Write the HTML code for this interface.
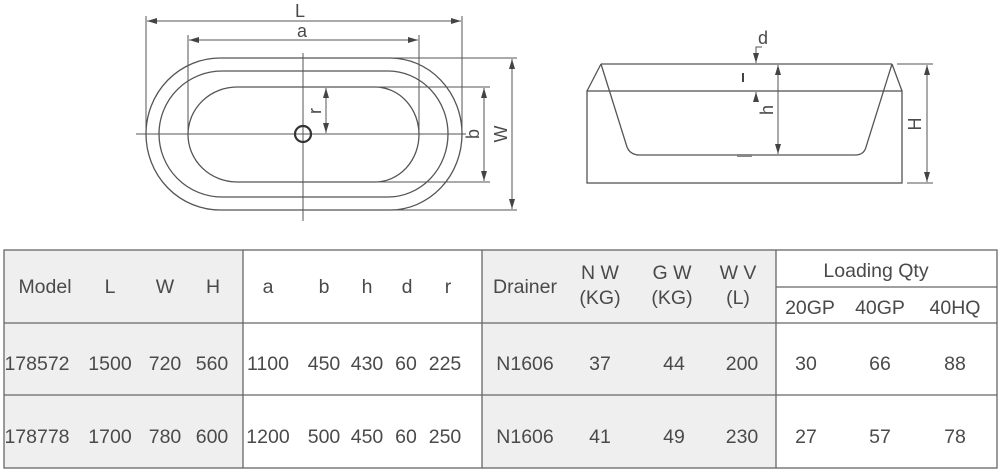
<!DOCTYPE html>
<html><head><meta charset="utf-8"><style>
html,body{margin:0;padding:0;background:#fff;}
svg{display:block;}
text{font-family:"Liberation Sans",sans-serif;fill:#4a4a4a;}
</style></head><body>
<svg width="1000" height="471" viewBox="0 0 1000 471" xmlns="http://www.w3.org/2000/svg">
<defs>
<marker id="ar" viewBox="0 0 10 6" refX="10" refY="3" markerWidth="10" markerHeight="6" orient="auto-start-reverse" markerUnits="userSpaceOnUse"><path d="M0,0 L10,3 L0,6 z" fill="#444"/></marker>
</defs>
<g stroke="#555" stroke-width="1.3" fill="none">
<path d="M220,58 L390,58 A72,76 0 0 1 390,210 L220,210 A74,76 0 0 1 220,58 Z"/>
<path d="M222,71 L388,71 A60,63 0 0 1 388,197 L222,197 A63,63 0 0 1 222,71 Z"/>
<path d="M237,87 L375,87 A44,47.5 0 0 1 375,182 L237,182 A49,47.5 0 0 1 237,87 Z"/>
</g>
<g stroke="#555" stroke-width="1" fill="none">
<line x1="136" y1="134" x2="466" y2="134"/>
<line x1="303" y1="53" x2="303" y2="221"/>
<line x1="146" y1="16" x2="146" y2="134"/>
<line x1="462" y1="16" x2="462" y2="134"/>
<line x1="147" y1="21" x2="461" y2="21" marker-start="url(#ar)" marker-end="url(#ar)"/>
<line x1="188" y1="35" x2="188" y2="134"/>
<line x1="419" y1="35" x2="419" y2="134"/>
<line x1="189" y1="40" x2="418" y2="40" marker-start="url(#ar)" marker-end="url(#ar)"/>
<line x1="326" y1="88" x2="326" y2="133" marker-start="url(#ar)" marker-end="url(#ar)"/>
<line x1="375" y1="87" x2="490" y2="87"/>
<line x1="375" y1="182" x2="490" y2="182"/>
<line x1="484" y1="88" x2="484" y2="181" marker-start="url(#ar)" marker-end="url(#ar)"/>
<line x1="390" y1="58" x2="517" y2="58"/>
<line x1="390" y1="210" x2="517" y2="210"/>
<line x1="512" y1="59" x2="512" y2="209" marker-start="url(#ar)" marker-end="url(#ar)"/>
</g>
<circle cx="303" cy="134" r="8" fill="none" stroke="#333" stroke-width="2.2"/>
<text x="300" y="17" font-size="18" text-anchor="middle">L</text>
<text x="302" y="37" font-size="18" text-anchor="middle">a</text>
<text transform="translate(321,111) rotate(-90)" font-size="18" text-anchor="middle">r</text>
<text transform="translate(479,134) rotate(-90)" font-size="18" text-anchor="middle">b</text>
<text transform="translate(507,134) rotate(-90)" font-size="18" text-anchor="middle">W</text>

<g stroke="#555" stroke-width="1.3" fill="none">
<rect x="587" y="91" width="315" height="92"/>
<line x1="601" y1="64" x2="892" y2="64"/>
<line x1="587" y1="91" x2="601" y2="64"/>
<line x1="902" y1="91" x2="892" y2="64"/>
<path d="M601,64 L627,147 Q630,155 640,155 L855,155 Q864,155 866,147 L892,64"/>
</g>
<rect x="737" y="154" width="15" height="3" fill="#888"/>
<g stroke="#555" stroke-width="1" fill="none">
<polyline points="762,47 756,47 756,63" marker-end="url(#ar)"/>
<line x1="756" y1="102" x2="756" y2="92" marker-end="url(#ar)"/>
<line x1="778" y1="65" x2="778" y2="154" marker-start="url(#ar)" marker-end="url(#ar)"/>
<line x1="897" y1="64" x2="933" y2="64"/>
<line x1="907" y1="183" x2="933" y2="183"/>
<line x1="927" y1="65" x2="927" y2="182" marker-start="url(#ar)" marker-end="url(#ar)"/>
</g>
<rect x="742" y="73" width="2" height="9" fill="#444"/>
<text x="763" y="44" font-size="18" text-anchor="middle">d</text>
<text transform="translate(773,110) rotate(-90)" font-size="18" text-anchor="middle">h</text>
<text transform="translate(921,124) rotate(-90)" font-size="18" text-anchor="middle">H</text>

<rect x="4" y="250" width="239" height="218" fill="#efefef"/>
<rect x="482" y="250" width="294" height="218" fill="#efefef"/>
<g stroke="#666" stroke-width="1.3" fill="none">
<rect x="4" y="250" width="993" height="218"/>
<line x1="4" y1="323" x2="997" y2="323"/>
<line x1="4" y1="395" x2="997" y2="395"/>
<line x1="243" y1="250" x2="243" y2="468"/>
<line x1="482" y1="250" x2="482" y2="468"/>
<line x1="776" y1="250" x2="776" y2="468"/>
<line x1="776" y1="287" x2="997" y2="287"/>
</g>
<g font-size="19.5" text-anchor="middle">
<text x="45" y="293">Model</text><text x="110" y="293">L</text><text x="165" y="293">W</text><text x="213" y="293">H</text>
<text x="268" y="293">a</text><text x="324" y="293">b</text><text x="367" y="293">h</text><text x="407" y="293">d</text><text x="448" y="293">r</text>
<text x="525" y="293">Drainer</text>
<text x="600" y="279">N W</text><text x="600" y="304">(KG)</text>
<text x="672" y="279">G W</text><text x="672" y="304">(KG)</text>
<text x="738" y="279">W V</text><text x="738" y="304">(L)</text>
<text x="876" y="277">Loading Qty</text>
<text x="810" y="314">20GP</text><text x="880" y="314">40GP</text><text x="955" y="314">40HQ</text>

<text x="37" y="370">178572</text><text x="110" y="370">1500</text><text x="165" y="370">720</text><text x="212" y="370">560</text>
<text x="268" y="370">1100</text><text x="324" y="370">450</text><text x="367" y="370">430</text><text x="406" y="370">60</text><text x="445" y="370">225</text>
<text x="525" y="370">N1606</text><text x="600" y="370">37</text><text x="674" y="370">44</text><text x="742" y="370">200</text>
<text x="806" y="370">30</text><text x="880" y="370">66</text><text x="955" y="370">88</text>

<text x="37" y="443">178778</text><text x="110" y="443">1700</text><text x="165" y="443">780</text><text x="212" y="443">600</text>
<text x="268" y="443">1200</text><text x="324" y="443">500</text><text x="367" y="443">450</text><text x="406" y="443">60</text><text x="445" y="443">250</text>
<text x="525" y="443">N1606</text><text x="600" y="443">41</text><text x="674" y="443">49</text><text x="742" y="443">230</text>
<text x="806" y="443">27</text><text x="880" y="443">57</text><text x="955" y="443">78</text>
</g>
</svg>
</body></html>
